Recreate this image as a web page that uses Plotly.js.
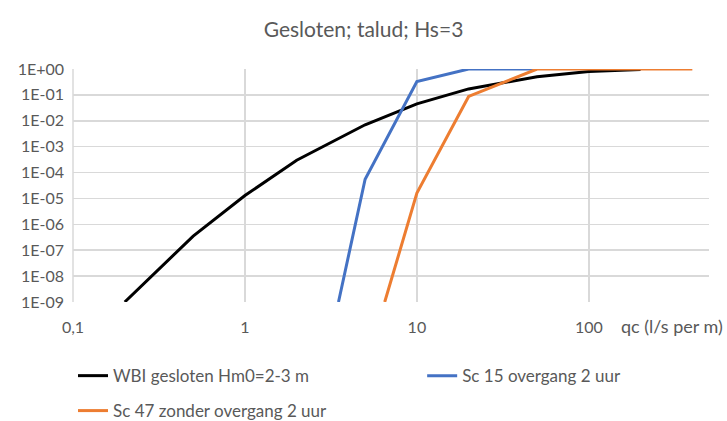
<!DOCTYPE html>
<html><head><meta charset="utf-8">
<script src="https://cdn.plot.ly/plotly-3.0.1.min.js"></script>
<style>html,body{margin:0;padding:0;background:#fff}#c{width:727px;height:421px}</style>
</head><body><div id="c"></div>
<script>
const wbiX = [0.2, 0.5, 1, 2, 5, 10, 20, 50, 100, 200];
const wbiY = [1e-9, 3.5e-7, 1.3e-5, 3e-4, 7e-3, 0.045, 0.17, 0.5, 0.8, 0.95];
const sc15X = [3.5, 5, 10, 20, 50];
const sc15Y = [1e-9, 5.5e-5, 0.33, 1, 1];
const sc47X = [6.5, 10, 20, 50, 100, 200, 400];
const sc47Y = [1e-9, 1.6e-5, 0.087, 1, 1, 1, 1];
const yTickVals = [1, 1e-1, 1e-2, 1e-3, 1e-4, 1e-5, 1e-6, 1e-7, 1e-8, 1e-9];
const yTickText = ["1E+00","1E-01","1E-02","1E-03","1E-04","1E-05","1E-06","1E-07","1E-08","1E-09"];
const xTickVals = [0.1, 1, 10, 100];
const xTickText = ["0,1", "1", "10", "100"];
const names = ["WBI gesloten Hm0=2-3 m", "Sc 15 overgang 2 uur", "Sc 47 zonder overgang 2 uur"];

const font = "Lato, Open Sans, sans-serif";
const grey = "#595959";
const traces = [
  {x: wbiX, y: wbiY, name: names[0], mode: "lines", line: {color: "#000000", width: 3}, legend: "legend"},
  {x: sc15X, y: sc15Y, name: names[1], mode: "lines", line: {color: "#4472C4", width: 3}, legend: "legend2"},
  {x: sc47X, y: sc47Y, name: names[2], mode: "lines", line: {color: "#ED7D31", width: 3}, legend: "legend3"}
];
const legFont = {size: 17, color: grey};
const layout = {
  width: 727, height: 421,
  margin: {l: 73, r: 18, t: 69, b: 119, autoexpand: false},
  paper_bgcolor: "#fff", plot_bgcolor: "#fff",
  font: {family: font, color: grey, size: 15},
  title: {text: "Gesloten; talud; Hs=3", x: 0.5, xref: "container", xanchor: "center", y: 0.929, yref: "container", yanchor: "middle", font: {size: 21, color: grey, family: font}},
  xaxis: {type: "log", range: [-1, Math.log10(500)], tickvals: xTickVals, ticktext: xTickText,
          showgrid: true, gridcolor: "#d9d9d9", gridwidth: 1.5, zeroline: false, showline: false,
          ticks: "", tickfont: {size: 16, color: grey}, ticklabelstandoff: 14},
  yaxis: {type: "log", range: [-9, 0], tickvals: yTickVals, ticktext: yTickText,
          showgrid: true, gridcolor: "#d9d9d9", gridwidth: 1.5, zeroline: false, showline: false,
          ticks: "", tickfont: {size: 16, color: grey}, ticklabelstandoff: 8},
  shapes: [{type: "line", xref: "x domain", yref: "y domain", x0: 0, x1: 0, y0: 0, y1: 1, line: {color: "#d9d9d9", width: 1.5}, layer: "below"}],
  annotations: [{text: "qc (l/s per m)", xref: "paper", yref: "paper", x: 1.025, y: -0.105, xanchor: "right", yanchor: "middle", showarrow: false, font: {size: 18, color: grey}}],
  showlegend: true,
  legend: {orientation: "h", x: 0, y: -0.318, xanchor: "left", yanchor: "middle", font: legFont, itemwidth: 30},
  legend2: {orientation: "h", x: 0.549, y: -0.318, xanchor: "left", yanchor: "middle", font: legFont, itemwidth: 30},
  legend3: {orientation: "h", x: 0, y: -0.468, xanchor: "left", yanchor: "middle", font: legFont, itemwidth: 30}
};
Plotly.newPlot("c", traces, layout, {displayModeBar: false, staticPlot: true});
</script></body></html>
